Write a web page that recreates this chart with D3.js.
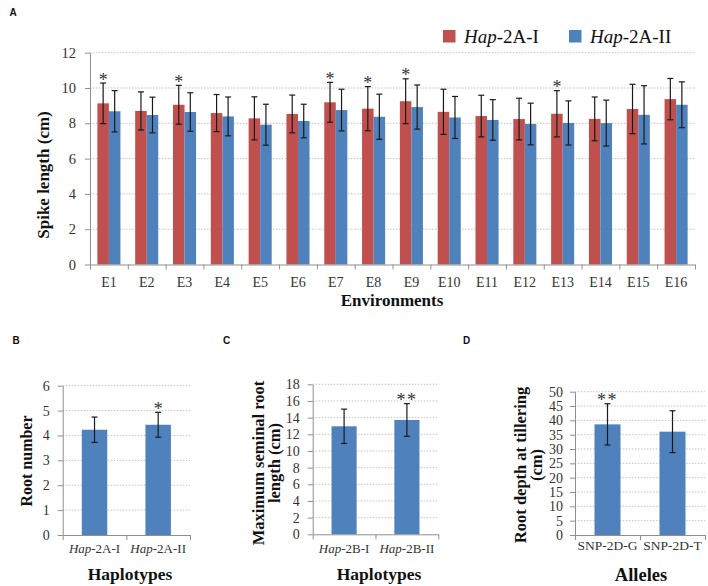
<!DOCTYPE html>
<html>
<head>
<meta charset="utf-8">
<script src="https://cdn.jsdelivr.net/npm/d3@7/dist/d3.min.js"></script>
<style>
  html, body { margin: 0; padding: 0; background: #fff; }
  svg { display: block; }
</style>
</head>
<body>
<svg id="chart" width="708" height="586"></svg>
<script>
// ---------- Panel A data ----------
const environments = ["E1","E2","E3","E4","E5","E6","E7","E8","E9","E10","E11","E12","E13","E14","E15","E16"];
const hap2AI    = [9.13, 8.70, 9.05, 8.58, 8.28, 8.53, 9.19, 8.83, 9.25, 8.65, 8.41, 8.24, 8.54, 8.25, 8.81, 9.37];
const hap2AIErr = [1.15, 1.08, 1.10, 1.05, 1.22, 1.07, 1.13, 1.25, 1.27, 1.28, 1.18, 1.18, 1.31, 1.24, 1.40, 1.17];
const hap2AII    = [8.68, 8.47, 8.64, 8.39, 7.92, 8.13, 8.75, 8.37, 8.92, 8.33, 8.19, 7.96, 8.02, 8.01, 8.48, 9.05];
const hap2AIIErr = [1.17, 1.01, 1.09, 1.10, 1.16, 0.95, 1.18, 1.28, 1.25, 1.19, 1.15, 1.18, 1.25, 1.30, 1.65, 1.30];
const sigA = ["*","","*","","","","*","*","*","","","","*","","",""];
const seriesA = ["Hap-2A-I", "Hap-2A-II"];
const ticksA = [0, 2, 4, 6, 8, 10, 12];

// ---------- Panel B data ----------
const haplotypesB = ["Hap-2A-I", "Hap-2A-II"];
const rootNumber = [4.23, 4.43];
const rootNumberErr = [0.51, 0.50];
const sigB = ["", "*"];
const ticksB = [0, 1, 2, 3, 4, 5, 6];

// ---------- Panel C data ----------
const haplotypesC = ["Hap-2B-I", "Hap-2B-II"];
const seminalRoot = [12.96, 13.72];
const seminalRootErr = [2.06, 1.96];
const sigC = ["", "**"];
const ticksC = [0, 2, 4, 6, 8, 10, 12, 14, 16, 18];

// ---------- Panel D data ----------
const allelesD = ["SNP-2D-G", "SNP-2D-T"];
const rootDepth = [38.6, 36.05];
const rootDepthErr = [7.2, 7.3];
const sigD = ["**", ""];
const ticksD = [0, 5, 10, 15, 20, 25, 30, 35, 40, 45, 50];

// ---------- styles ----------
const RED = "#C0504D", BLUE = "#4F81BD";
const SERIF = "'Liberation Serif','Times New Roman',serif";
const SANS = "'Liberation Sans',Arial,sans-serif";
const AXIS = "#8f8f8f", GRID = "#c4c4c4", TXT = "#333";

const svg = d3.select("#chart");

function labelText(sel, label) {
  if (label.startsWith("Hap")) {
    sel.append("tspan").attr("font-style", "italic").text("Hap");
    sel.append("tspan").text(label.slice(3));
  } else {
    sel.text(label);
  }
}

function yAxis(g, y, ticks, x0, x1, fontSize, pad) {
  g.append("g").selectAll("line").data(ticks.filter(t => t !== 0)).join("line")
    .attr("x1", x0).attr("x2", x1)
    .attr("y1", d => y(d)).attr("y2", d => y(d))
    .attr("stroke", GRID).attr("stroke-width", 1).attr("stroke-dasharray", "1.5,1.5");
  const ax = g.append("g").attr("transform", `translate(${x0},0)`)
    .call(d3.axisLeft(y).tickValues(ticks).tickSize(5).tickSizeOuter(0).tickPadding(pad).tickFormat(d3.format("d")));
  ax.select(".domain").attr("stroke", AXIS);
  ax.selectAll(".tick line").attr("stroke", AXIS);
  ax.selectAll(".tick text").attr("font-family", SERIF).attr("font-size", fontSize).attr("fill", TXT);
  return ax;
}

function errBar(g, cx, yTop, yBot) {
  const c = 3;
  g.append("line").attr("x1", cx).attr("x2", cx).attr("y1", yTop).attr("y2", yBot)
    .attr("stroke", "#1a1a1a").attr("stroke-width", 1.2);
  g.append("line").attr("x1", cx - c).attr("x2", cx + c).attr("y1", yTop).attr("y2", yTop)
    .attr("stroke", "#1a1a1a").attr("stroke-width", 1.2);
  g.append("line").attr("x1", cx - c).attr("x2", cx + c).attr("y1", yBot).attr("y2", yBot)
    .attr("stroke", "#1a1a1a").attr("stroke-width", 1.2);
}

function star(g, cx, yTop, s, size) {
  if (!s) return;
  g.append("text").attr("x", cx).attr("y", yTop + 2.5).attr("text-anchor", "middle")
    .attr("font-family", SERIF).attr("font-size", size).attr("fill", "#333")
    .attr("letter-spacing", s.length > 1 ? 1.5 : 0)
    .text(s);
}

function panelLetter(x, y, t) {
  svg.append("text").attr("x", x).attr("y", y).attr("font-family", SANS)
    .attr("font-weight", "bold").attr("font-size", 10).attr("fill", "#111").text(t);
}

// ================= Panel A =================
(function () {
  const g = svg.append("g");
  const x0 = 90, x1 = 695, yB = 264.5, yT = 52.7;
  const y = d3.scaleLinear().domain([0, 12]).range([yB, yT]);
  const x = d3.scaleBand().domain(environments).range([x0, x1]).paddingInner(0.39).paddingOuter(0.195);
  const xs = d3.scaleBand().domain(seriesA).range([0, x.bandwidth()]);
  const xb = d3.scaleLinear().domain([0, environments.length]).range([x0, x1]);

  yAxis(g, y, ticksA, x0, x1, 14.5, 9);

  const data = [hap2AI, hap2AII], errs = [hap2AIErr, hap2AIIErr], cols = [RED, BLUE];
  seriesA.forEach((s, si) => {
    g.append("g").selectAll("rect").data(environments).join("rect")
      .attr("x", d => x(d) + xs(s)).attr("width", xs.bandwidth())
      .attr("y", (d, i) => y(data[si][i])).attr("height", (d, i) => yB - y(data[si][i]))
      .attr("fill", cols[si]);
  });
  const ax = g.append("g").attr("transform", `translate(0,${yB})`)
    .call(d3.axisBottom(xb).tickValues(d3.range(environments.length + 1)).tickSize(5).tickSizeOuter(0).tickFormat(""));
  ax.select(".domain").attr("stroke", AXIS);
  ax.selectAll(".tick line").attr("stroke", AXIS);

  seriesA.forEach((s, si) => {
    environments.forEach((e, i) => {
      const cx = x(e) + xs(s) + xs.bandwidth() / 2;
      const v = data[si][i], er = errs[si][i];
      errBar(g, cx, y(v + er), y(v - er));
      if (si === 0) star(g, cx, y(v + er), sigA[i], 18);
    });
  });
  g.append("g").selectAll("text").data(environments).join("text")
    .attr("x", d => x(d) + x.bandwidth() / 2).attr("y", 286.5).attr("text-anchor", "middle")
    .attr("font-family", SERIF).attr("font-size", 14).attr("fill", TXT).text(d => d);
  g.append("text").attr("x", 392).attr("y", 306).attr("text-anchor", "middle")
    .attr("font-family", SERIF).attr("font-weight", "bold").attr("font-size", 17).attr("fill", "#111")
    .text("Environments");
  g.append("text").attr("transform", "translate(49,175) rotate(-90)").attr("text-anchor", "middle")
    .attr("font-family", SERIF).attr("font-weight", "bold").attr("font-size", 17).attr("fill", "#111")
    .text("Spike length (cm)");
  const lx = [443, 569];
  seriesA.forEach((s, si) => {
    g.append("rect").attr("x", lx[si]).attr("y", 30).attr("width", 12.5).attr("height", 12.5).attr("fill", cols[si]);
    const t = g.append("text").attr("x", lx[si] + 21).attr("y", 43)
      .attr("font-family", SERIF).attr("font-size", 19).attr("fill", "#111");
    labelText(t, s);
  });
  panelLetter(9.5, 15.5, "A");
})();

// ================= small panels =================
function smallPanel(cfg) {
  const g = svg.append("g");
  const y = d3.scaleLinear().domain([0, cfg.ticks[cfg.ticks.length - 1]]).range([cfg.yB, cfg.yT]);
  const x = d3.scaleBand().domain(cfg.cats).range([cfg.x0, cfg.x1]).paddingInner(0.6).paddingOuter(0.3);
  const xb = d3.scaleLinear().domain([0, cfg.cats.length]).range([cfg.x0, cfg.x1]);
  yAxis(g, y, cfg.ticks, cfg.x0, cfg.x1, cfg.tickFont, cfg.tickPad);
  g.append("g").selectAll("rect").data(cfg.cats).join("rect")
    .attr("x", d => x(d)).attr("width", x.bandwidth())
    .attr("y", (d, i) => y(cfg.values[i])).attr("height", (d, i) => cfg.yB - y(cfg.values[i]))
    .attr("fill", BLUE);
  const ax = g.append("g").attr("transform", `translate(0,${cfg.yB})`)
    .call(d3.axisBottom(xb).tickValues(d3.range(cfg.cats.length + 1)).tickSize(5).tickSizeOuter(0).tickFormat(""));
  ax.select(".domain").attr("stroke", AXIS);
  ax.selectAll(".tick line").attr("stroke", AXIS);
  cfg.cats.forEach((c, i) => {
    const cx = x(c) + x.bandwidth() / 2;
    const v = cfg.values[i], er = cfg.errs[i];
    errBar(g, cx, y(v + er), y(v - er));
    star(g, cx, y(v + er), cfg.sig[i], 18);
    const t = g.append("text").attr("x", cx).attr("y", cfg.labelY).attr("text-anchor", "middle")
      .attr("font-family", SERIF).attr("font-size", cfg.labelFont).attr("fill", TXT);
    labelText(t, c);
  });
  g.append("text").attr("x", cfg.titleX).attr("y", cfg.titleY).attr("text-anchor", "middle")
    .attr("font-family", SERIF).attr("font-weight", "bold").attr("font-size", cfg.titleFont).attr("fill", "#111")
    .text(cfg.xTitle);
  cfg.yTitle.forEach((line, li) => {
    g.append("text").attr("transform", `translate(${cfg.yTitleX[li]},${cfg.yTitleCY}) rotate(-90)`)
      .attr("text-anchor", "middle").attr("font-family", SERIF).attr("font-weight", "bold")
      .attr("font-size", cfg.yTitleFont).attr("fill", "#111").text(line);
  });
  panelLetter(cfg.letterX, 343.5, cfg.letter);
}

smallPanel({
  cats: haplotypesB, values: rootNumber, errs: rootNumberErr, sig: sigB, ticks: ticksB,
  x0: 62.7, x1: 190, yB: 535, yT: 385.7, tickFont: 14, tickPad: 8, labelFont: 13, labelY: 552.5,
  xTitle: "Haplotypes", titleX: 130, titleY: 580, titleFont: 17.5,
  yTitle: ["Root number"], yTitleX: [31.5], yTitleCY: 461, yTitleFont: 16,
  letter: "B", letterX: 12.5
});
smallPanel({
  cats: haplotypesC, values: seminalRoot, errs: seminalRootErr, sig: sigC, ticks: ticksC,
  x0: 312.7, x1: 438.3, yB: 534.3, yT: 384.3, tickFont: 14, tickPad: 8, labelFont: 13, labelY: 552.5,
  xTitle: "Haplotypes", titleX: 379, titleY: 580, titleFont: 17.5,
  yTitle: ["Maximum seminal root", "length (cm)"], yTitleX: [264, 280], yTitleCY: 463, yTitleFont: 16.5,
  letter: "C", letterX: 223
});
smallPanel({
  cats: allelesD, values: rootDepth, errs: rootDepthErr, sig: sigD, ticks: ticksD,
  x0: 575, x1: 705, yB: 535, yT: 391.7, tickFont: 14, tickPad: 7, labelFont: 13.5, labelY: 550,
  xTitle: "Alleles", titleX: 641, titleY: 581, titleFont: 18.5,
  yTitle: ["Root depth at tillering", "(cm)"], yTitleX: [526, 542], yTitleCY: 465, yTitleFont: 16.5,
  letter: "D", letterX: 463
});
</script>
</body>
</html>
